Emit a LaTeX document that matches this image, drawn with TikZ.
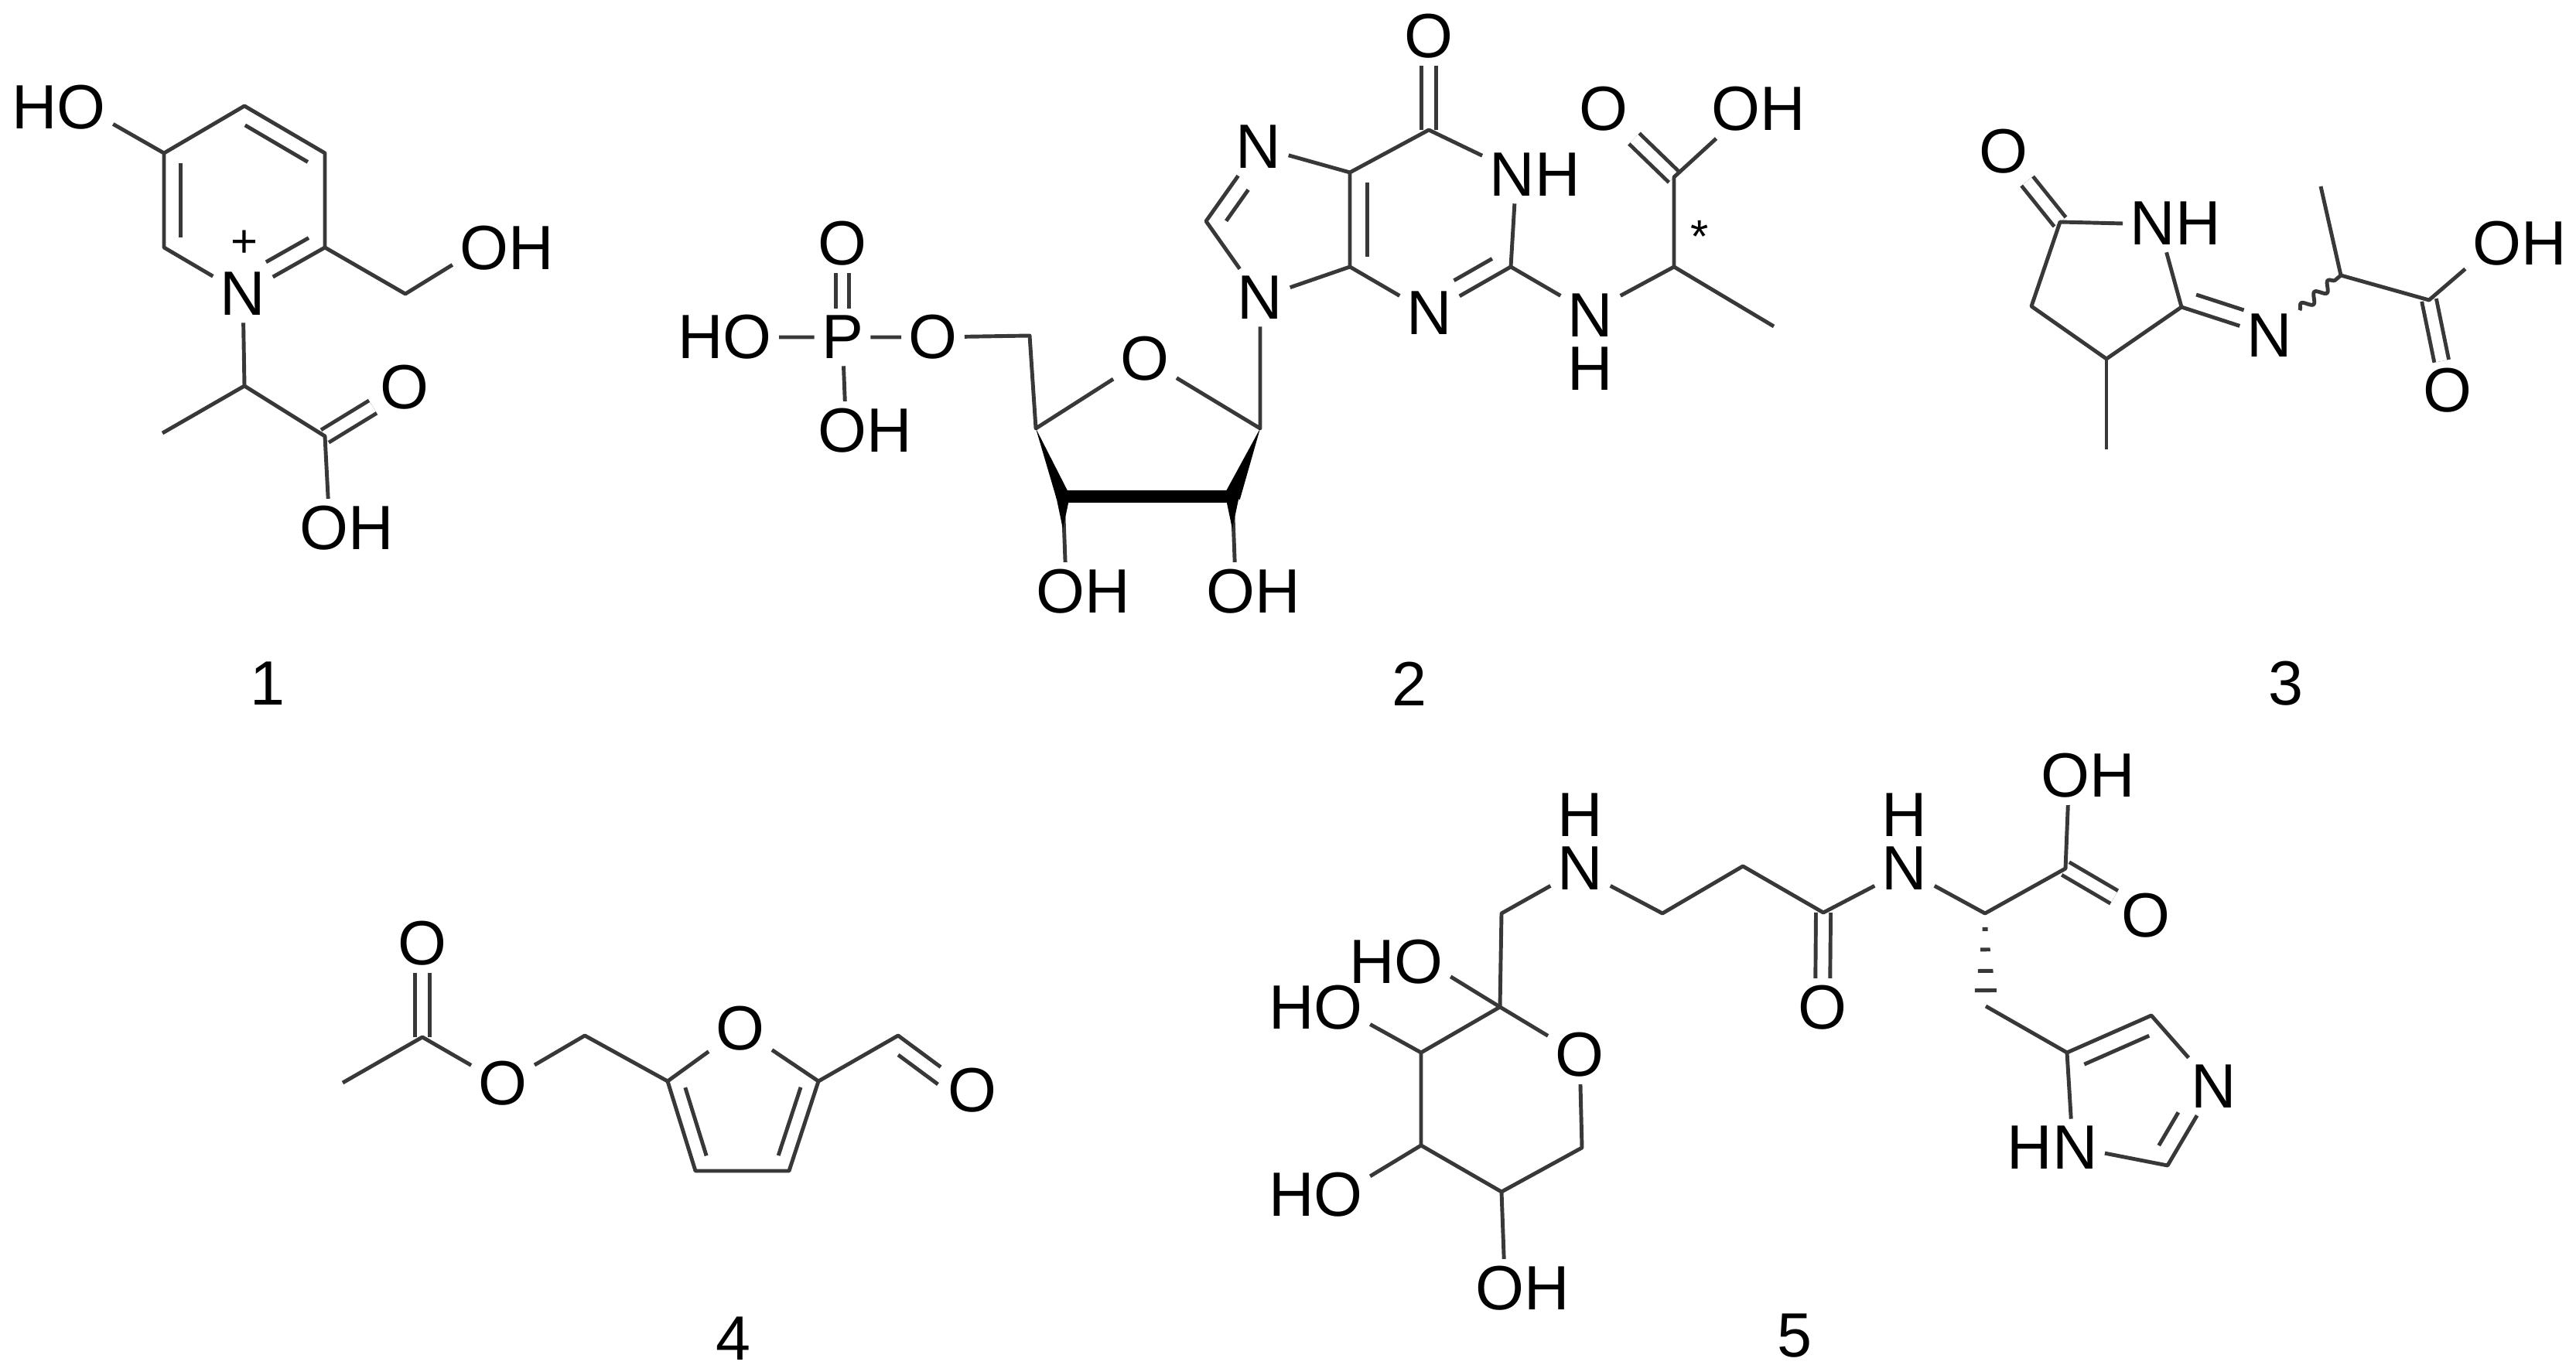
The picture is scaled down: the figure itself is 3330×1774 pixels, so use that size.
\documentclass[tikz,border=0pt]{standalone}
\usepackage{fontspec}
\setmainfont{Liberation Sans}
\usetikzlibrary{calc,decorations.pathmorphing}
\definecolor{bondgray}{gray}{0.22}
\tikzset{
    atom/.style={font=\fontsize{23}{19.6}\selectfont, inner sep=2.5pt},
    stacked/.style={atom, align=center},
    caption/.style={font=\fontsize{23}{28}\selectfont, inner sep=0pt},
    charge/.style={font=\fontsize{17}{20}\selectfont, inner sep=0pt},
    bond/.style={draw=bondgray, line width=1.4pt, line join=round},
    dbond/.style={bond, double=white, double distance=4pt},
    wavybond/.style={bond, decorate, decoration={snake, segment length=6.5pt, amplitude=1.7pt}},
    boldbond/.style={draw=black, line width=4.7pt},
}
% inner line of a double bond: from, to, start, end, offset
\newcommand{\ringbond}[5]{\draw[bond] ($(#1)!#3!(#2)!#5!90:(#2)$) -- ($(#1)!#4!(#2)!#5!90:(#2)$);}
\newcommand{\wedgebond}[3]{\fill[black] (#1) -- ($(#2)!#3!90:(#1)$) -- ($(#2)!#3!-90:(#1)$) -- cycle;}
\newcommand{\hashbar}[4]{\draw[bond] ($(#1)!#3!(#2)!#4!90:(#2)$) -- ($(#1)!#3!(#2)!#4!-90:(#2)$);}
\begin{document}
\begin{tikzpicture}[x=0.01cm,y=-0.01cm]
\useasboundingbox (0,0) rectangle (3330,1774);

% compound 1
\coordinate (a2) at (420,320);
\coordinate (a3) at (420,198);
\coordinate (a4) at (316,137);
\coordinate (a5) at (212,198);
\coordinate (a6) at (212,320);
\coordinate (a7) at (524,380);
\coordinate (a8) at (316,499);
\coordinate (a9) at (210,560);
\coordinate (a10) at (420,564);
\node[atom] (an) at (314,380) {N};
\node[charge] (aplus) at (316,315) {+};
\node[atom] (aho) at (76,139) {HO};
\node[atom] (aoh) at (655,321) {OH};
\node[atom] (ao) at (523,501) {O};
\node[atom] (aoh2) at (448,683) {OH};
\node[caption] (alabel) at (346,884) {1};
\draw[dbond] (a10) -- (ao);
\draw[bond] (aho.-17) -- (a5) -- (a4) -- (a3) -- (a2) -- (an) -- (a6) -- (a5);
\draw[bond] (a2) -- (a7) -- (aoh.197);
\draw[bond] (an) -- (a8) -- (a9);
\draw[bond] (a8) -- (a10) -- (aoh2.122);
\ringbond{a5}{a6}{.11}{.89}{6pt}
\ringbond{a4}{a3}{.11}{.89}{-6pt}
\ringbond{an}{a2}{.38}{.9}{6pt}

% compound 2
\coordinate (b2) at (1953,345);
\coordinate (b4) at (1745,345);
\coordinate (b5) at (1745,223);
\coordinate (b6) at (1847,168);
\coordinate (b8) at (1559,286);
\coordinate (b1r) at (1629,554);
\coordinate (b2r) at (1593,642);
\coordinate (b3r) at (1374,642);
\coordinate (b4r) at (1339,554);
\coordinate (b5r) at (1331,434);
\coordinate (b2t) at (1593,684);
\coordinate (b3t) at (1374,684);
\coordinate (bch) at (2164,345);
\coordinate (bme) at (2293,422);
\coordinate (bco) at (2164,229);
\node[atom] (bo6) at (1847,47) {O};
\node[atom] (bnh) at (1984,226) {NH};
\node[atom] (bn7) at (1627,190) {N};
\node[atom] (bn9) at (1629,385) {N};
\node[atom] (bn3) at (1848,405) {N};
\node[stacked] (bna) at (2056,442) {N\\H};
\node[atom] (bo) at (2073,141) {O};
\node[atom] (boh) at (2273,141) {OH};
\node[charge] (bstar) at (2197,306) {*};
\node[atom] (bor) at (1480,464) {O};
\node[atom] (bo5) at (1206,436) {O};
\node[atom] (bp) at (1089,436) {P};
\node[atom] (bho) at (937,436) {HO};
\node[atom] (bpo) at (1089,315) {O};
\node[atom] (bpoh) at (1118,557) {OH};
\node[atom] (boh3) at (1400,765) {OH};
\node[atom] (boh2) at (1620,765) {OH};
\node[caption] (blabel) at (1822,884) {2};
\draw[dbond] (b6) -- (bo6);
\draw[dbond] (bco) -- (bo);
\draw[dbond, double distance=3.2pt] (bp) -- (bpo);
\draw[bond] (bnh.160) -- (b6) -- (b5) -- (bn7) -- (b8) -- (bn9) -- (b4) -- (b5);
\draw[bond] (b4) -- (bn3) -- (b2) -- (bnh.235);
\draw[bond] (b2) -- (bna.123);
\draw[bond] (bna.57) -- (bch) -- (bme);
\draw[bond] (bch) -- (bco) -- (boh.215);
\draw[bond] (bn9) -- (b1r) -- (bor) -- (b4r) -- (b5r) -- (bo5) -- (bp) -- (bho);
\draw[bond] (bp) -- (bpoh.124);
\draw[bond] (b3r) -- (boh3.121);
\draw[bond] (b2r) -- (boh2.122);
\draw[boldbond] (b3r) -- (b2r);
\wedgebond{b4r}{b3r}{2.5pt}
\wedgebond{b1r}{b2r}{3pt}
\wedgebond{b3t}{b3r}{2.5pt}
\wedgebond{b2t}{b2r}{2.5pt}
\ringbond{b4}{b5}{.11}{.89}{-6.5pt}
\ringbond{bn7}{b8}{.45}{.87}{6pt}
\ringbond{bn3}{b2}{.4}{.87}{6pt}

% compound 3
\coordinate (c1) at (2663,287);
\coordinate (c2) at (2626,396);
\coordinate (c3) at (2723,464);
\coordinate (c4) at (2820,397);
\coordinate (c5) at (2723,581);
\coordinate (c6) at (3026,356);
\coordinate (c7) at (3000,241);
\coordinate (c8) at (3140,388);
\node[atom] (co) at (2590,196) {O};
\node[atom] (cnh) at (2812,289) {NH};
\node[atom] (cn) at (2934,434) {N};
\node[atom] (coh) at (3257,315) {OH};
\node[atom] (co2) at (3164,505) {O};
\node[caption] (clabel) at (2955,884) {3};
\draw[dbond] (c1) -- (co);
\draw[dbond] (c8) -- (co2);
\draw[bond] (cnh.180) -- (c1) -- (c2) -- (c3) -- (c4) -- (cnh.253);
\draw[bond] (c3) -- (c5);
\draw[bond] (c4) -- (cn);
\draw[wavybond] (cn) -- (c6);
\draw[bond] (c7) -- (c6) -- (c8) -- (coh.205);
\ringbond{c4}{cn}{.11}{.65}{6pt}

% compound 4
\coordinate (d1) at (443,1400);
\coordinate (d2) at (546,1341);
\coordinate (d3) at (756,1339);
\coordinate (d4) at (863,1398);
\coordinate (d5) at (899,1514);
\coordinate (d6) at (1020,1514);
\coordinate (d7) at (1058,1398);
\coordinate (d8) at (1161,1339);
\node[atom] (do) at (546,1220) {O};
\node[atom] (do2) at (650,1401) {O};
\node[atom] (dor) at (957,1330) {O};
\node[atom] (do3) at (1257,1410) {O};
\node[caption] (dlabel) at (948,1731) {4};
\draw[dbond] (d2) -- (do);
\draw[bond] (d1) -- (d2) -- (do2) -- (d3) -- (d4) -- (dor) -- (d7) -- (d6) -- (d5) -- (d4);
\draw[bond] (d7) -- (d8) -- (do3);
\ringbond{d4}{d5}{.12}{.88}{5.5pt}
\ringbond{d7}{d6}{.12}{.88}{-5.5pt}
\ringbond{d8}{do3}{.125}{.66}{-5.7pt}

% compound 5
\coordinate (e1) at (1941,1181);
\coordinate (e2) at (1939,1302);
\coordinate (e3) at (1837,1361);
\coordinate (e4) at (1837,1481);
\coordinate (e5) at (1941,1541);
\coordinate (e6) at (2045,1484);
\coordinate (e7) at (2149,1181);
\coordinate (e8) at (2253,1120);
\coordinate (e9) at (2357,1180);
\coordinate (e10) at (2566,1181);
\coordinate (e11) at (2670,1123);
\coordinate (e12) at (2567,1301);
\coordinate (e13) at (2672,1361);
\coordinate (e14) at (2781,1313);
\coordinate (e15) at (2802,1507);
\node[stacked] (en) at (2043,1088) {H\\N};
\node[atom] (eor) at (2042,1364) {O};
\node[atom] (eho) at (1805,1244) {HO};
\node[atom] (eho2) at (1701,1303) {HO};
\node[atom] (eho3) at (1701,1545) {HO};
\node[atom] (eoh) at (1968,1666) {OH};
\node[atom] (eo) at (2356,1303) {O};
\node[stacked] (en2) at (2462,1088) {H\\N};
\node[atom] (eoh2) at (2699,1003) {OH};
\node[atom] (eo2) at (2774,1184) {O};
\node[atom] (en3) at (2862,1405) {N};
\node[atom] (ehn) at (2653,1484) {HN};
\node[caption] (elabel) at (2320,1727) {5};
\draw[dbond] (e9) -- (eo);
\draw[dbond] (e11) -- (eo2);
\draw[bond] (en.236) -- (e1) -- (e2) -- (e3) -- (e4) -- (e5) -- (e6) -- (eor) -- (e2);
\draw[bond] (eho.-15) -- (e2);
\draw[bond] (eho2.-17) -- (e3);
\draw[bond] (eho3.19) -- (e4);
\draw[bond] (e5) -- (eoh.122);
\draw[bond] (en.-56) -- (e7) -- (e8) -- (e9) -- (en2.236);
\draw[bond] (en2.-56) -- (e10) -- (e11) -- (eoh2.236);
\draw[bond] (e12) -- (e13) -- (e14) -- (en3) -- (e15) -- (ehn.-6);
\draw[bond] (ehn.57) -- (e13);
\hashbar{e10}{e12}{.17}{1pt}
\hashbar{e10}{e12}{.39}{1.8pt}
\hashbar{e10}{e12}{.62}{2.8pt}
\hashbar{e10}{e12}{.83}{4pt}
\ringbond{e13}{e14}{.12}{.89}{-6.5pt}
\ringbond{en3}{e15}{.44}{.86}{-6.5pt}
\end{tikzpicture}
\end{document}
